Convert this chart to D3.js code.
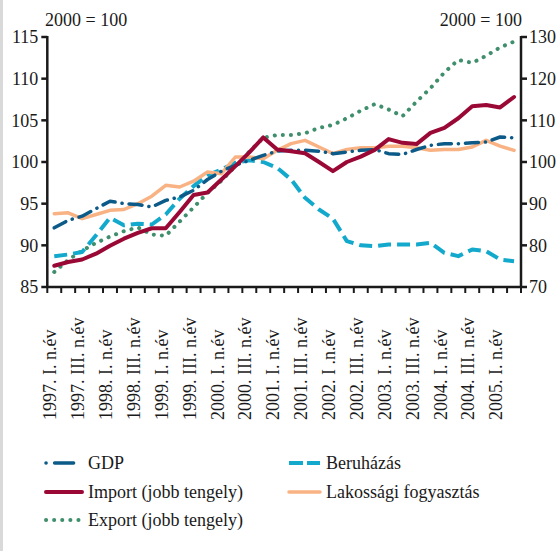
<!DOCTYPE html>
<html>
<head>
<meta charset="utf-8">
<script src="https://cdn.jsdelivr.net/npm/d3@7"></script>
<style>
  body { margin: 0; background: #fff; }
  text { font-family: "Liberation Serif", "Times New Roman", serif; fill: #1a1a1a; }
</style>
</head>
<body>
<div id="chart"></div>
<script>
// Chart size
var svgWidth = 557;
var svgHeight = 551;

// Plot area
var plot = { left: 47.3, right: 521, top: 37, bottom: 287 };

// Quarters (categories)
var quarters = [
  "1997. I. n.év", "1997. II. n.év", "1997. III. n.év", "1997. IV. n.év",
  "1998. I. n.év", "1998. II. n.év", "1998. III. n.év", "1998. IV. n.év",
  "1999. I. n.év", "1999. II. n.év", "1999. III. n.év", "1999. IV. n.év",
  "2000. I. n.év", "2000. II. n.év", "2000. III. n.év", "2000. IV. n.év",
  "2001. I. n.év", "2001. II. n.év", "2001. III. n.év", "2001. IV. n.év",
  "2002. I .n.év", "2002. II. n.év", "2002. III. n.év", "2002. IV. n.év",
  "2003. I. n.év", "2003. II. n.év", "2003. III. n.év", "2003. IV. n.év",
  "2004. I. n.év", "2004. II. n.év", "2004. III. n.év", "2004. IV. n.év",
  "2005. I. n.év", "2005. II. n.év"
];

// Series values (2000 = 100)
var gdp = [92.1, 93.0, 93.5, 94.4, 95.3, 95.0, 94.9, 94.6, 95.4, 95.8, 96.6, 97.9,
  98.9, 99.6, 100.2, 100.8, 101.3, 101.4, 101.4, 101.3, 101.0, 101.2, 101.4, 101.5,
  101.0, 100.9, 101.5, 102.0, 102.2, 102.2, 102.3, 102.4, 103.0, 102.9];
var beruhazas = [88.7, 88.9, 89.2, 91.2, 93.3, 92.4, 92.6, 92.5, 93.7, 95.6, 97.1, 98.4,
  99.1, 99.9, 100.2, 100.0, 99.3, 97.9, 95.7, 94.3, 93.2, 90.5, 90.0, 89.9,
  90.1, 90.1, 90.1, 90.3, 89.1, 88.7, 89.5, 89.3, 88.3, 88.1];
var lakossagi = [93.8, 93.9, 93.2, 93.7, 94.2, 94.3, 95.0, 95.9, 97.2, 97.0, 97.7, 98.8,
  98.6, 100.6, 100.6, 100.4, 101.4, 102.2, 102.6, 101.8, 101.0, 101.5, 101.7, 101.7,
  101.9, 101.9, 101.7, 101.4, 101.5, 101.5, 101.8, 102.6, 101.9, 101.4];
var importIdx = [75.1, 76.0, 76.6, 78.0, 79.9, 81.6, 83.0, 84.1, 84.1, 88.0, 92.1, 92.7,
  95.8, 99.0, 102.3, 105.9, 103.0, 102.6, 102.1, 100.0, 97.8, 100.0, 101.3, 102.9,
  105.5, 104.6, 104.3, 107.0, 108.2, 110.5, 113.4, 113.7, 113.1, 115.6];
var exportIdx = [73.6, 76.5, 78.7, 80.6, 82.1, 83.4, 84.3, 82.6, 82.3, 85.7, 89.1, 92.6,
  95.5, 99.0, 102.5, 105.8, 106.5, 106.5, 106.9, 108.2, 108.9, 110.5, 112.3, 113.9,
  112.6, 111.0, 114.5, 117.7, 121.5, 124.5, 123.8, 125.5, 127.5, 128.9];

// Axis ticks
var leftTicks = [85, 90, 95, 100, 105, 110, 115];
var rightTicks = [70, 80, 90, 100, 110, 120, 130];
var unitLabel = "2000 = 100";

var svg = d3.select("#chart")
  .append("svg")
  .attr("width", svgWidth)
  .attr("height", svgHeight);

svg.append("rect").attr("width", svgWidth).attr("height", svgHeight).attr("fill", "#fff");
// light grey edge on the left
svg.append("rect").attr("x", 0).attr("y", 0).attr("width", 3).attr("height", svgHeight).attr("fill", "#d9d9d9");

// Scales
var x = d3.scaleBand().domain(quarters).range([plot.left, plot.right]).padding(0);
var yLeft = d3.scaleLinear().domain([85, 115]).range([plot.bottom, plot.top]);
var yRight = d3.scaleLinear().domain([70, 130]).range([plot.bottom, plot.top]);

// Series definitions (draw order)
var series = [
  { name: "Export (jobb tengely)", values: exportIdx, y: yRight, color: "#3f8f6c", width: 4, dash: "0.1,8", cap: "round" },
  { name: "Beruházás", values: beruhazas, y: yLeft, color: "#12a9cc", width: 4, dash: "13,6", cap: "butt" },
  { name: "Lakossági fogyasztás", values: lakossagi, y: yLeft, color: "#f9b283", width: 3.5, dash: null, cap: "round" },
  { name: "GDP", values: gdp, y: yLeft, color: "#0b5a88", width: 3.5, dash: "13,7,0.1,7", cap: "round" },
  { name: "Import (jobb tengely)", values: importIdx, y: yRight, color: "#9a0836", width: 4, dash: null, cap: "round" }
];

series.forEach(function(s) {
  var line = d3.line()
    .x(function(d, i) { return x(quarters[i]) + x.bandwidth() / 2; })
    .y(function(d) { return s.y(d); });
  svg.append("path")
    .datum(s.values)
    .attr("d", line)
    .attr("fill", "none")
    .attr("stroke", s.color)
    .attr("stroke-width", s.width)
    .attr("stroke-linejoin", "round")
    .attr("stroke-linecap", s.cap)
    .attr("stroke-dasharray", s.dash);
});

// Axes
var axisColor = "#1a1a1a";
var gAxes = svg.append("g").attr("stroke", axisColor).attr("stroke-width", 2.5);

// left axis
gAxes.append("line").attr("x1", plot.left).attr("x2", plot.left).attr("y1", plot.top - 1).attr("y2", plot.bottom);
leftTicks.forEach(function(t) {
  gAxes.append("line").attr("x1", plot.left - 6).attr("x2", plot.left).attr("y1", yLeft(t)).attr("y2", yLeft(t));
});
// right axis
gAxes.append("line").attr("x1", plot.right).attr("x2", plot.right).attr("y1", plot.top - 1).attr("y2", plot.bottom);
rightTicks.forEach(function(t) {
  gAxes.append("line").attr("x1", plot.right).attr("x2", plot.right + 6).attr("y1", yRight(t)).attr("y2", yRight(t));
});
// bottom axis with ticks at band edges
gAxes.append("line").attr("x1", plot.left).attr("x2", plot.right).attr("y1", plot.bottom).attr("y2", plot.bottom);
d3.range(quarters.length + 1).forEach(function(i) {
  var tx = plot.left + i * x.step();
  gAxes.append("line").attr("x1", tx).attr("x2", tx).attr("y1", plot.bottom).attr("y2", plot.bottom + 6)
    .attr("stroke-width", 2);
});

// tick labels
svg.selectAll(".ylab-left").data(leftTicks).enter().append("text")
  .attr("x", plot.left - 9).attr("y", function(d) { return yLeft(d); })
  .attr("dy", "0.35em").attr("text-anchor", "end").attr("font-size", 18)
  .text(function(d) { return d; });
svg.selectAll(".ylab-right").data(rightTicks).enter().append("text")
  .attr("x", plot.right + 8).attr("y", function(d) { return yRight(d); })
  .attr("dy", "0.35em").attr("text-anchor", "start").attr("font-size", 18)
  .text(function(d) { return d; });

// quarter labels (every second)
quarters.forEach(function(q, i) {
  if (i % 2 !== 0) return;
  var cx = x(q) + x.bandwidth() / 2;
  svg.append("text")
    .attr("transform", "translate(" + cx + ",420) rotate(-90)")
    .attr("dy", "0.12em")
    .attr("font-size", 18)
    .attr("text-anchor", "start")
    .text(q);
});

// unit labels
svg.append("text").attr("x", 45).attr("y", 26).attr("font-size", 18).text(unitLabel);
svg.append("text").attr("x", 522).attr("y", 26).attr("font-size", 18).attr("text-anchor", "end").text(unitLabel);

// Legend
var legendItems = [
  { s: series[3], x: 45, y: 463, dash: "0.1,8.5,19,8.5,0.1" },
  { s: series[1], x: 288, y: 463, dash: "14,4" },
  { s: series[4], x: 45, y: 492, dash: null },
  { s: series[2], x: 288, y: 492, dash: null },
  { s: series[0], x: 45, y: 520, dash: "0.1,8" }
];
legendItems.forEach(function(it) {
  var len = it.x < 100 ? 37 : 32;
  svg.append("line")
    .attr("x1", it.x + 1).attr("x2", it.x + len).attr("y1", it.y).attr("y2", it.y)
    .attr("stroke", it.s.color)
    .attr("stroke-width", it.s.width)
    .attr("stroke-linecap", it.s.cap)
    .attr("stroke-dasharray", it.dash);
  svg.append("text")
    .attr("x", it.x + len + 6).attr("y", it.y).attr("dy", "0.33em")
    .attr("font-size", 18)
    .text(it.s.name);
});
</script>
</body>
</html>
